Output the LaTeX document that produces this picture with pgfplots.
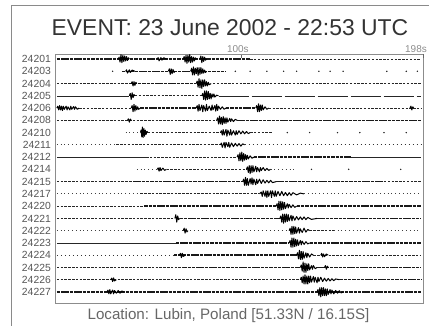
\documentclass[border=0pt]{standalone}
\usepackage{pgfplots}
\pgfplotsset{compat=1.18}
\usepackage{fontspec}
\setmainfont{Liberation Sans}
\definecolor{frame}{HTML}{8A8A8A}
\definecolor{lab}{HTML}{555555}
\definecolor{ttl}{HTML}{333333}
\pgfplotsset{
 quiet/.style={black!85, line width=0.6bp, mark=none},
 lite/.style={black!85, line width=0.9bp, dash pattern=on 2.5bp off 1.3bp, mark=none},
 med/.style={black!90, line width=1.4bp, dash pattern=on 3.5bp off 0.8bp, mark=none},
 dotl/.style={black!75, line width=0.9bp, dash pattern=on 0.8bp off 3bp, mark=none},
 spar/.style={black!80, line width=0.9bp, dash pattern=on 1.5bp off 2.5bp, mark=none},
 long/.style={black!85, line width=0.6bp, dash pattern=on 30bp off 3bp, mark=none},
 brst/.style={black, line width=1bp, line join=round, mark=none},
 dots/.style={only marks, mark=*, mark size=0.5bp, black!85},
}
\newcommand{\seg}[4]{\addplot[#1] coordinates {(#2,#4) (#3,#4)};}
\newcommand{\brst}[2]{\addplot[brst] table[row sep=\\, y expr=\thisrowno{1}+#1] {#2\\};}
\begin{document}
\begin{tikzpicture}[x=1bp,y=1bp]
\path[use as bounding box] (0,0) rectangle (429,326);
\draw[frame, line width=0.8bp] (11,-10) -- (11,321) -- (440,321);
\node[anchor=base, text=ttl, font=\fontsize{23}{27}\selectfont] at (230,291) {EVENT: 23 June 2002 - 22:53 UTC};
\node[anchor=base, text=lab!90, font=\fontsize{15.2}{18}\selectfont] at (228.5,6.5) {Location: Lubin, Poland [51.33N / 16.15S]};
\begin{axis}[
 at={(55bp,23bp)}, anchor=south west,
 scale only axis, width=368bp, height=249bp,
 xmin=0, xmax=198, ymin=-0.9, ymax=19.41,
 axis line style={black!45, line width=0.8bp},
 xtick={100}, xticklabels={100s},
 extra x ticks={198}, extra x tick labels={198s},
 xticklabel pos=upper, xtick pos=upper,
 xtick align=inside, major tick length=4bp,
 xtick style={black!60, line width=0.6bp},
 xticklabel style={font=\fontsize{10}{12}\selectfont, text=black!45, anchor=south, xshift=-3bp, inner sep=1bp},
 extra x tick style={xticklabel pos=upper, xtick pos=upper, xtick align=inside,
   xticklabel style={anchor=south east, xshift=8bp}},
 ytick={0,...,19},
 yticklabels={24227,24226,24225,24224,24223,24222,24221,24220,24217,24215,24214,24212,24211,24210,24208,24206,24205,24204,24203,24201},
 ytick style={draw=none},
 yticklabel style={font=\fontsize{10.4}{12}\selectfont, text=lab, inner sep=0pt, xshift=-4bp},
 /pgf/number format/assume math mode=true,
]
% 24201
\seg{med}{1}{105}{19}
\seg{lite}{105}{197}{19}
\brst{19}{34 0\\34.5 .15\\35 -.25\\35.5 .35\\36 -.3\\36.5 .3\\37 -.2\\37.5 .25\\38 -.15\\38.5 .2\\39 -.12\\39.5 .1\\40 0}
\brst{19}{55 0\\55.5 .12\\56 -.15\\57 .12\\57.5 -.1\\58.5 .1\\60 0}
\brst{19}{69 0\\69.5 .2\\70 -.25\\70.5 .3\\71 -.35\\71.5 .3\\72 -.25\\72.5 .35\\73 -.3\\73.5 .2\\74 -.25\\74.5 .15\\75 -.15\\75.5 .1\\76 0}
\brst{19}{78 0\\78.5 .25\\79 -.3\\79.5 .2\\80 -.2\\80.5 .15\\81 -.1\\81.5 0}
% 24203
\seg{med}{36}{92}{18}
\addplot[dots] coordinates {(31,18) (97,18) (105,18) (114,18) (123,18) (130,18) (142,18) (148,18) (155,18) (178.5,18) (189,18) (195,18)};
\brst{18}{38 0\\38.5 .12\\39 -.15\\40 .12\\40.5 -.1\\41.5 .1\\43 0}
\brst{18}{61 0\\61.5 .2\\62 -.25\\62.5 .2\\63 -.2\\63.5 .15\\64 -.1\\64.5 0}
\brst{18}{73 0\\73.5 .25\\74 -.3\\74.5 .35\\75 -.3\\75.5 .25\\76 -.2\\76.5 .3\\77 -.35\\77.5 .3\\78 -.25\\78.5 .3\\79 -.2\\79.5 .2\\80 -.15\\80.5 .1\\81 -.1\\81.5 0}
% 24204
\seg{lite}{1}{40}{17}
\seg{med}{40}{76}{17}
\seg{lite}{85}{197}{17}
\brst{17}{41 0\\41.5 .15\\42 -.2\\42.5 .15\\43 -.15\\43.5 .1\\44 0}
\brst{17}{76 0\\76.5 .2\\77 -.3\\77.5 .4\\78 -.35\\78.5 .3\\79 -.4\\79.5 .3\\80 -.25\\80.5 .3\\81 -.2\\81.5 .15\\82 -.2\\82.5 .1\\83 -.1\\84 0}
% 24205
\seg{quiet}{1}{40}{16}
\seg{lite}{43}{79}{16}
\seg{long}{88}{197}{16}
\brst{16}{40 0\\40.5 .2\\41 -.3\\41.5 .25\\42 -.15\\42.5 .1\\43 0}
\brst{16}{79 0\\79.5 .2\\80 -.3\\80.5 .4\\81 -.35\\81.5 .4\\82 -.3\\82.5 .35\\83 -.25\\83.5 .2\\84 -.25\\84.5 .15\\85 -.1\\85.5 .15\\86 -.1\\87 .05\\88 0}
% 24206
\brst{15}{1 0\\1.5 .15\\2 -.15\\2.5 .2\\3 -.15\\3.5 .15\\4 -.2\\4.5 .15\\5 -.1\\6 .15\\6.5 -.15\\7 .1\\8 -.15\\8.5 .15\\9 -.1\\10 .12\\10.5 -.1\\11 .1\\12 -.1\\13 0}
\seg{lite}{13}{41}{15}
\brst{15}{41 0\\41.5 .2\\42 -.3\\42.5 .3\\43 -.25\\43.5 .2\\44 -.15\\44.5 .1\\45 -.1\\46 0}
\seg{med}{46}{76}{15}
\brst{15}{76 0\\76.5 .2\\77 -.25\\77.5 .3\\78 -.2\\79 .25\\79.5 -.3\\80 .2\\81 -.25\\81.5 .3\\82 -.2\\83 .15\\84 -.2\\84.5 .25\\85 -.15\\86 .2\\86.5 -.25\\87 .3\\87.5 -.2\\88 .15\\89 -.1\\90 .1\\91 -.1\\92 0}
\seg{med}{92}{108}{15}
\brst{15}{108 0\\108.5 .2\\109 -.3\\109.5 .35\\110 -.3\\110.5 .25\\111 -.2\\111.5 .25\\112 -.15\\113 .1\\114 -.1\\115 0}
\seg{lite}{115}{197}{15}
\brst{15}{191 0\\191.5 .15\\192 -.15\\192.5 .1\\193 0}
% 24208
\seg{lite}{1}{87}{14}
\brst{14}{39 0\\39.5 .12\\40 -.15\\40.5 .1\\41 0}
\brst{14}{87 0\\87.5 .2\\88 -.3\\88.5 .35\\89 -.3\\89.5 .25\\90 -.35\\90.5 .3\\91 -.25\\91.5 .2\\92 -.25\\92.5 .2\\93 -.15\\94 .15\\94.5 -.1\\95 .12\\96 -.1\\97 .08\\98 0}
\seg{med}{98}{197}{14}
% 24210
\seg{dotl}{38}{46}{13}
\brst{13}{46 0\\46.3 .2\\46.7 -.35\\47 .45\\47.4 -.4\\47.8 .35\\48.2 -.3\\48.6 .2\\49 -.15\\49.5 .1\\50 0}
\seg{lite}{50}{89}{13}
\brst{13}{89 0\\89.5 .15\\90 -.2\\90.5 .25\\91 -.2\\92 .25\\92.5 -.3\\93 .2\\94 -.2\\94.5 .25\\95 -.2\\96 .15\\97 -.2\\97.5 .15\\98 -.15\\99 .15\\100 -.1\\101 .12\\102 -.1\\103 .08\\104 -.08\\105 0}
\seg{lite}{105}{117}{13}
\addplot[dots] coordinates {(125,13) (137,13) (152,13) (164,13) (177,13) (189,13)};
% 24211
\seg{dotl}{1}{33}{12}
\seg{lite}{33}{89}{12}
\brst{12}{89 0\\89.5 .15\\90 -.2\\91 .2\\91.5 -.25\\92 .2\\93 -.15\\93.5 .2\\94 -.2\\95 .15\\96 -.15\\97 .12\\98 -.1\\99 .1\\100 -.1\\101 .08\\102 0}
\seg{spar}{102}{197}{12}
% 24212
\seg{quiet}{1}{49}{11}
\seg{lite}{49}{98}{11}
\brst{11}{98 0\\98.5 .2\\99 -.3\\99.5 .35\\100 -.3\\100.5 .4\\101 -.35\\101.5 .3\\102 -.25\\102.5 .2\\103 -.2\\103.5 .15\\104 -.15\\105 .1\\106 -.1\\107 0}
\seg{med}{107}{159}{11}
\seg{quiet}{159}{197}{11}
% 24214
\seg{dotl}{44}{55}{10}
\brst{10}{55 0\\55.5 .12\\56 -.15\\56.5 .15\\57 -.1\\58 .1\\59 -.08\\60 0}
\seg{lite}{60}{103}{10}
\brst{10}{103 0\\103.5 .2\\104 -.25\\104.5 .3\\105 -.35\\105.5 .3\\106 -.25\\106.5 .3\\107 -.2\\108 .25\\108.5 -.2\\109 .15\\110 -.2\\110.5 .15\\111 -.1\\112 .15\\113 -.1\\114 .08\\115 -.08\\116 0}
\seg{dotl}{116}{130}{10}
\addplot[dots] coordinates {(138,10) (158,10) (186,10)};
% 24215
\seg{lite}{1}{42}{9}
\seg{med}{42}{101}{9}
\brst{9}{101 0\\101.5 .2\\102 -.3\\102.5 .35\\103 -.3\\103.5 .25\\104 -.3\\105 .25\\105.5 -.2\\106 .3\\106.5 -.25\\107 .2\\108 -.25\\108.5 .2\\109 -.15\\110 .2\\111 -.15\\112 .15\\113 -.12\\114 .1\\115 -.1\\116 .1\\117 -.08\\119 0}
\seg{med}{119}{177}{9}
\seg{lite}{177}{197}{9}
% 24217
\seg{dotl}{1}{46}{8}
\seg{lite}{46}{110}{8}
\brst{8}{110 0\\111 .15\\111.5 -.2\\112 .25\\113 -.2\\113.5 .25\\114 -.3\\114.5 .25\\115 -.2\\116 .25\\116.5 -.3\\117 .25\\118 -.2\\118.5 .25\\119 -.2\\120 .2\\121 -.15\\122 .2\\123 -.15\\124 .12\\125 -.15\\126 .1\\127 -.12\\128 .1\\130 -.08\\132 .06\\134 0}
\seg{dotl}{134}{197}{8}
% 24220
\seg{lite}{1}{48}{7}
\seg{med}{48}{119}{7}
\brst{7}{119 0\\119.5 .2\\120 -.3\\120.5 .4\\121 -.35\\121.5 .4\\122 -.3\\122.5 .35\\123 -.25\\123.5 .3\\124 -.2\\125 .2\\125.5 -.15\\126 .15\\127 -.12\\128 .1\\129 -.1\\130 0}
\seg{med}{130}{197}{7}
% 24221
\seg{lite}{1}{64}{6}
\brst{6}{64.5 0\\65 .3\\65.5 -.3\\66 .2\\66.5 -.1\\67 0}
\seg{med}{67}{121}{6}
\brst{6}{121 0\\121.5 .2\\122 -.3\\122.5 .35\\123 -.4\\123.5 .35\\124 -.3\\124.5 .35\\125 -.25\\125.5 .3\\126 -.2\\127 .25\\127.5 -.2\\128 .2\\129 -.15\\130 .15\\131 -.12\\132 .12\\133 -.1\\134 .12\\135 -.1\\136 .08\\138 -.08\\141 0}
\seg{med}{141}{197}{6}
% 24222
\seg{dotl}{1}{51}{5}
\seg{spar}{51}{126}{5}
\brst{5}{69 0\\69.5 .2\\70 -.2\\70.5 .15\\71 -.1\\71.5 0}
\brst{5}{126 0\\126.5 .2\\127 -.3\\127.5 .35\\128 -.3\\128.5 .35\\129 -.25\\129.5 .3\\130 -.2\\131 .25\\131.5 -.2\\132 .15\\133 -.15\\134 .2\\135 -.12\\136 .1\\137 0}
\seg{lite}{137}{150}{5}
\seg{dotl}{150}{197}{5}
% 24223
\seg{quiet}{1}{65}{4}
\seg{med}{65}{126}{4}
\brst{4}{126 0\\126.5 .2\\127 -.35\\127.5 .4\\128 -.35\\128.5 .4\\129 -.3\\129.5 .3\\130 -.25\\130.5 .25\\131 -.2\\132 .2\\132.5 -.15\\133 .15\\134 -.12\\135 .1\\136 -.08\\137 0}
\seg{med}{137}{197}{4}
% 24224
\seg{spar}{1}{64}{3}
\seg{med}{64}{130}{3}
\brst{3}{67 0\\67.5 .15\\68 -.2\\68.5 .15\\69 -.1\\70 0}
\brst{3}{130 0\\130.5 .2\\131 -.3\\131.5 .4\\132 -.35\\132.5 .3\\133 -.35\\133.5 .3\\134 -.25\\135 .2\\135.5 -.2\\136 .15\\137 -.15\\138 .1\\139 0}
\seg{lite}{139}{197}{3}
\brst{3}{143 0\\143.5 .15\\144 -.15\\144.5 .1\\145 -.12\\146 .1\\147 0}
% 24225
\seg{lite}{1}{69}{2}
\seg{med}{69}{132}{2}
\brst{2}{132 0\\132.5 .2\\133 -.3\\133.5 .45\\134 -.4\\134.5 .35\\135 -.4\\135.5 .3\\136 -.25\\136.5 .3\\137 -.2\\138 .15\\138.5 -.15\\139 .15\\140 -.1\\141 0}
\seg{med}{141}{197}{2}
\brst{2}{145 0\\145.5 .15\\146 -.15\\146.5 .1\\147 0}
% 24226
\seg{lite}{1}{132}{1}
\brst{1}{30 0\\30.5 .12\\31 -.15\\31.5 .15\\32 -.1\\33 0}
\brst{1}{132 0\\132.5 .2\\133 -.25\\133.5 .3\\134 -.35\\134.5 .4\\135 -.35\\135.5 .3\\136 -.35\\136.5 .3\\137 -.25\\137.5 .3\\138 -.2\\139 .25\\139.5 -.2\\140 .2\\141 -.25\\141.5 .2\\142 -.15\\143 .2\\144 -.15\\145 .12\\146 -.12\\147 .1\\148 -.1\\149 .08\\150 -.08\\151 .06\\153 0}
\seg{med}{153}{197}{1}
% 24227
\seg{med}{1}{197}{0}
\brst{0}{28 0\\28.5 .15\\29 -.15\\29.5 .2\\30 -.15\\31 .15\\31.5 -.15\\32 .12\\33 -.1\\34 .12\\35 -.1\\36 .08\\37 0}
\brst{0}{141 0\\141.5 .2\\142 -.3\\142.5 .35\\143 -.4\\143.5 .35\\144 -.3\\144.5 .35\\145 -.3\\145.5 .25\\146 -.3\\146.5 .25\\147 -.2\\148 .2\\148.5 -.15\\149 .15\\150 -.15\\151 .12\\152 -.1\\153 .1\\154 -.08\\155 0}
\end{axis}
\end{tikzpicture}
\end{document}
